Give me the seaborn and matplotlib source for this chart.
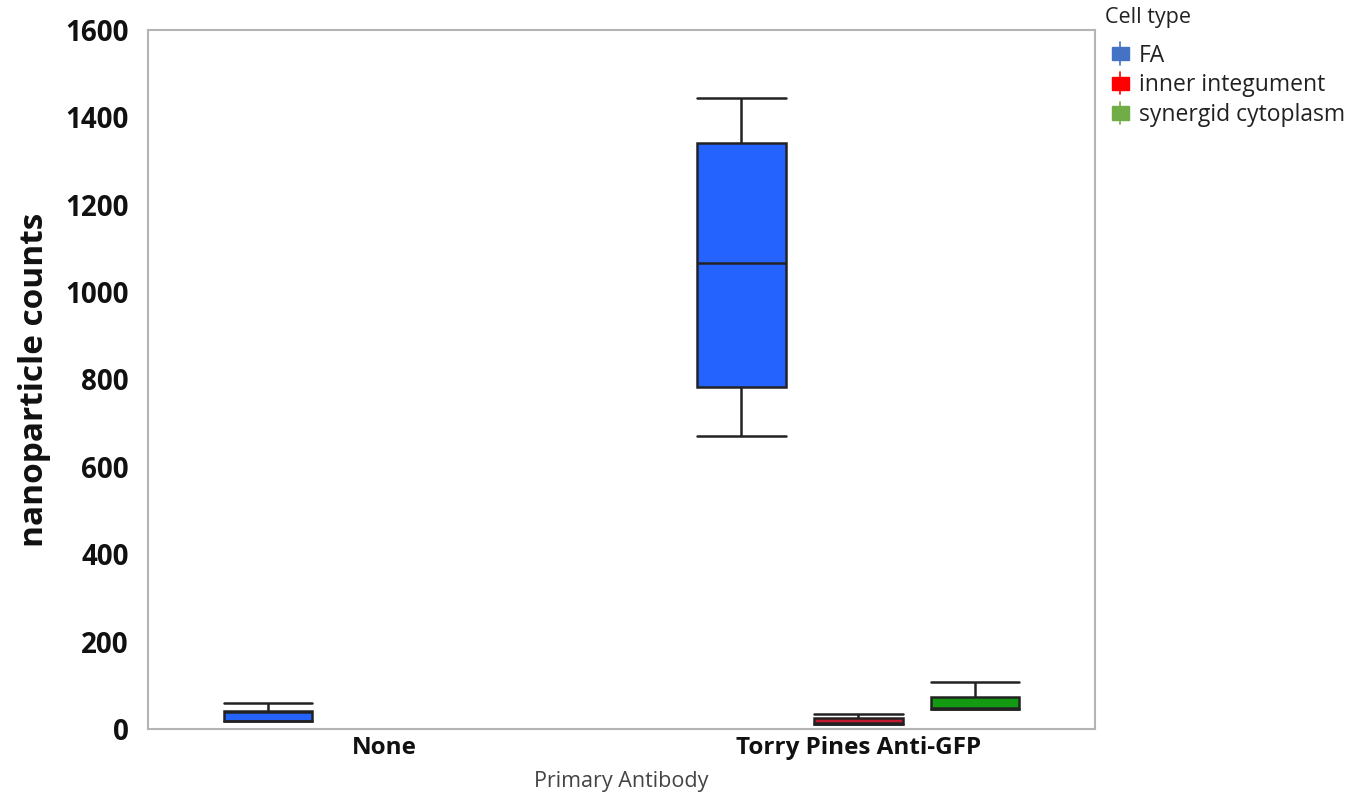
import numpy as np
import pandas as pd
import seaborn as sns
import matplotlib
matplotlib.use("Agg")
import matplotlib.pyplot as plt
from matplotlib.patches import Rectangle
from matplotlib.lines import Line2D
from matplotlib.legend_handler import HandlerBase

# Five-number summaries per group: min, Q1, median, Q3, max
antibodies = ["None", "Torry Pines Anti-GFP"]
cell_types = ["FA", "inner integument", "synergid cytoplasm"]

none_fa = [19, 19, 40, 41, 60]
torry_fa = [671, 783, 1067, 1341, 1444]
torry_inner = [12, 12, 13, 25, 34]
torry_synergid = [46, 46, 48, 73, 108]

box_colors = ["#2563ff", "#c41a30", "#129a12"]
legend_colors = ["#4472c4", "#ff0000", "#70ad47"]

rows = []
for ab, ct, vals in [
    ("None", "FA", none_fa),
    ("Torry Pines Anti-GFP", "FA", torry_fa),
    ("Torry Pines Anti-GFP", "inner integument", torry_inner),
    ("Torry Pines Anti-GFP", "synergid cytoplasm", torry_synergid),
]:
    for v in vals:
        rows.append({"Primary Antibody": ab, "Cell type": ct, "count": v})
df = pd.DataFrame(rows)

sns.set_style("white")
plt.rcParams["font.family"] = ["Open Sans", "DejaVu Sans"]

W, H = 1363, 799
fig = plt.figure(figsize=(W / 100, H / 100), dpi=100)
ax = fig.add_axes([148 / W, 1 - 729 / H, (1095 - 148) / W, (729 - 30) / H])

sns.boxplot(
    data=df, x="Primary Antibody", y="count", hue="Cell type",
    order=antibodies, hue_order=cell_types, palette=box_colors,
    whis=(0, 100), width=0.74, gap=0.24, linewidth=1.8, linecolor="#222222",
    saturation=1, showfliers=False, legend=False, ax=ax,
)

# Stretch whisker caps to the full box width
boxes = list(ax.patches)
for line in ax.lines:
    xd = np.asarray(line.get_xdata(), dtype=float)
    yd = np.asarray(line.get_ydata(), dtype=float)
    if len(xd) == 2 and yd[0] == yd[1] and xd[0] != xd[1]:
        cx = xd.mean()
        for b in boxes:
            verts = b.get_transform().transform(b.get_path().vertices)
            verts = ax.transData.inverted().transform(verts)
            x0, x1 = verts[:, 0].min(), verts[:, 0].max()
            if x0 - 1e-6 <= cx <= x1 + 1e-6:
                line.set_xdata([x0, x1])
                break

ax.set_xlim(-0.5, 1.5)
ax.set_ylim(0, 1600)
ax.set_yticks(np.arange(0, 1601, 200))

for s in ax.spines.values():
    s.set_visible(True)
    s.set_color("#b4b4b4")
    s.set_linewidth(1.5)

ax.tick_params(axis="y", which="major", direction="out", length=6, width=1.2,
               color="#b4b4b4", labelsize=20, pad=8, labelcolor="#111111")
ax.tick_params(axis="x", length=0, labelsize=17.5, pad=5, labelcolor="#111111")

ax.set_ylabel("nanoparticle counts", fontsize=24, fontweight="bold",
              labelpad=10, color="#111111")
ax.set_xlabel("Primary Antibody", fontsize=15.5, color="#444444", labelpad=8)


class BoxIconHandler(HandlerBase):
    def create_artists(self, legend, orig_handle, xdescent, ydescent,
                       width, height, fontsize, trans):
        color = orig_handle.get_facecolor()
        cx = -xdescent + width / 2
        w = width * 0.9
        h = height * 0.8
        rect = Rectangle((cx - w / 2, -ydescent + (height - h) / 2), w, h,
                         facecolor=color, edgecolor=color, transform=trans)
        stem = Line2D([cx, cx], [-ydescent - 2, -ydescent + height + 2],
                      color=color, lw=1.2, transform=trans)
        return [stem, rect]


fig.text(1105 / W, 1 - 18 / H, "Cell type", fontsize=15.5, color="#222222",
         ha="left", va="center")

handles = [Rectangle((0, 0), 1, 1, facecolor=c) for c in legend_colors]
leg = fig.legend(
    handles, cell_types, loc="upper left",
    bbox_to_anchor=(1106 / W, 1 - 39 / H), frameon=False, fontsize=16.5,
    handler_map={Rectangle: BoxIconHandler()},
    handlelength=0.85, handleheight=0.75, handletextpad=0.4,
    labelspacing=0.25, borderaxespad=0, borderpad=0.2,
)
for t in leg.get_texts():
    t.set_color("#222222")

for tick in ax.xaxis.get_major_ticks() + ax.yaxis.get_major_ticks():
    tick.label1.set_fontweight("bold")

fig.savefig("out.png", dpi=100)
